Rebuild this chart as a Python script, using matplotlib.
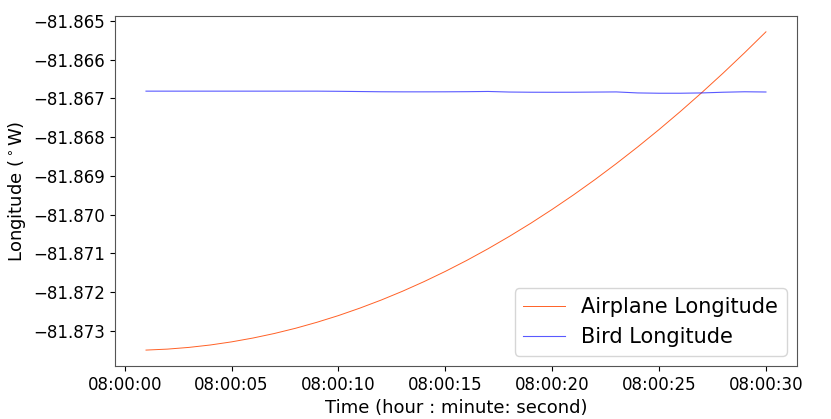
import matplotlib
matplotlib.use("Agg")
import matplotlib.pyplot as plt
import matplotlib.dates as mdates
import matplotlib.ticker as mticker
import pandas as pd

# seconds after 08:00:00
seconds = list(range(1, 31))

airplane_lon = [
    -81.873500, -81.873475, -81.873431, -81.873369, -81.873288,
    -81.873189, -81.873072, -81.872936, -81.872781, -81.872609,
    -81.872417, -81.872208, -81.871980, -81.871733, -81.871468,
    -81.871185, -81.870883, -81.870562, -81.870224, -81.869866,
    -81.869491, -81.869097, -81.868684, -81.868253, -81.867804,
    -81.867336, -81.866849, -81.866345, -81.865821, -81.865280,
]

bird_lon = [
    -81.866812, -81.866812, -81.866812, -81.866812, -81.866812,
    -81.866812, -81.866812, -81.866812, -81.866812, -81.866816,
    -81.866822, -81.866828, -81.866830, -81.866830, -81.866829,
    -81.866826, -81.866820, -81.866835, -81.866840, -81.866841,
    -81.866840, -81.866836, -81.866832, -81.866858, -81.866866,
    -81.866866, -81.866858, -81.866840, -81.866828, -81.866834,
]

times = pd.Timestamp("2023-01-01 08:00:00") + pd.to_timedelta(seconds, unit="s")

fig = plt.figure(figsize=(8.31, 4.19), dpi=100)
ax = fig.add_axes([0.1384, 0.1265, 0.8206, 0.8355])

ax.plot(times, airplane_lon, color="orangered", lw=0.7, alpha=0.85, label="Airplane Longitude")
ax.plot(times, bird_lon, color="blue", lw=0.8, alpha=0.65, label="Bird Longitude")

ax.xaxis.set_major_locator(mdates.SecondLocator(bysecond=range(0, 60, 5)))
ax.xaxis.set_major_formatter(mdates.DateFormatter("%H:%M:%S"))
ax.yaxis.set_major_locator(mticker.MultipleLocator(0.001))
ax.yaxis.set_major_formatter(mticker.FuncFormatter(lambda v, p: f"{v:.3f}".replace("-", "\u2212")))

ax.tick_params(labelsize=12)
for s in ax.spines.values():
    s.set_color("#555555")
ax.set_xlabel("Time (hour : minute: second)", fontsize=13)
ax.set_ylabel(r"Longitude ($^\circ$W)", fontsize=13)
ax.legend(loc="lower right", fontsize=15)

fig.savefig("out.png", dpi=100)
